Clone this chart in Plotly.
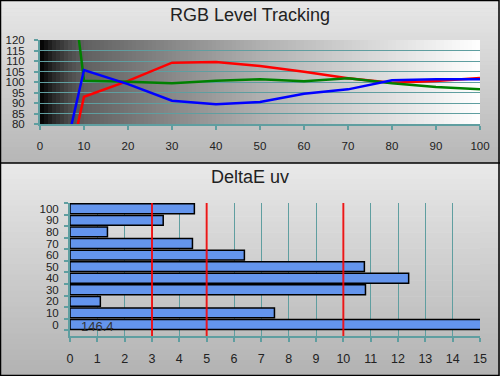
import plotly.graph_objects as go

# ---------------- data ----------------
levels = [5, 10, 20, 30, 40, 50, 60, 70, 80, 90, 100]
red = [46.6, 93.0, 100.5, 109.2, 109.5, 107.6, 104.9, 101.8, 99.7, 100.5, 101.9]
green = [185.6, 100.6, 100.1, 99.4, 100.6, 101.3, 100.3, 101.8, 99.4, 97.6, 96.5]
blue = [59.8, 105.7, 99.0, 91.1, 89.4, 90.5, 94.4, 96.5, 100.8, 101.3, 101.3]

de_levels = ["0", "10", "20", "30", "40", "50", "60", "70", "80", "90", "100"]
de_values = [146.4, 7.48, 1.11, 10.81, 12.39, 10.77, 6.38, 4.48, 1.37, 3.41, 4.55]
de_label = "146.4"
thresholds = [3, 5, 10]

x_ticks_top = list(range(0, 101, 10))
y_ticks_top = list(range(80, 121, 5))
x_ticks_bot = list(range(0, 16))

# ---------------- styling helpers ----------------
W, H = 500, 376
TEAL = "#5f9ea0"
FONT = "Liberation Sans, Arial, sans-serif"
TXT = "#222222"


def lerp_gray(stops, t):
    for (t0, g0), (t1, g1) in zip(stops, stops[1:]):
        if t0 <= t <= t1:
            f = (t - t0) / (t1 - t0) if t1 > t0 else 0
            g = round(g0 + (g1 - g0) * f)
            return f"rgb({g},{g},{g})"
    g = stops[-1][1]
    return f"rgb({g},{g},{g})"


shapes = []

# panel backgrounds (vertical gradients)
def panel(y_top_px, y_bot_px, g_top, g_bot, n=40):
    h = (y_bot_px - y_top_px) / n
    for i in range(n):
        t = (i + 0.5) / n
        g = round(g_top + (g_bot - g_top) * t)
        y0 = y_top_px + i * h
        y1 = y0 + h + 0.6
        shapes.append(dict(type="rect", xref="paper", yref="paper",
                           x0=0, x1=1, y0=1 - min(y1, H) / H, y1=1 - y0 / H,
                           fillcolor=f"rgb({g},{g},{g})", line_width=0,
                           layer="below"))

panel(0, 163, 232, 182)
panel(163, 376, 233, 178)

# plot-area gradient for top chart (black -> white horizontally)
grad_stops = [(0.0, 0), (0.03, 40), (0.07, 78), (0.10, 96), (0.5, 176), (1.0, 255)]
NG = 110
for i in range(NG):
    x0 = 100 * i / NG
    x1 = 100 * (i + 1) / NG
    shapes.append(dict(type="rect", xref="x", yref="y domain",
                       x0=x0, x1=min(x1 + 0.4, 100), y0=0, y1=1,
                       fillcolor=lerp_gray(grad_stops, (i + 0.5) / NG),
                       line_width=0, layer="below"))

# threshold lines on DeltaE chart
for t in thresholds:
    shapes.append(dict(type="line", xref="x2", yref="y2 domain",
                       x0=t, x1=t, y0=0, y1=1,
                       line=dict(color="rgba(255,0,0,0.85)", width=2),
                       layer="above"))

# frame and separator
shapes.append(dict(type="rect", xref="paper", yref="paper",
                   x0=0.001, x1=0.998, y0=0.0015, y1=0.9987,
                   line=dict(color="black", width=1.5), layer="above"))
shapes.append(dict(type="line", xref="paper", yref="paper",
                   x0=0, x1=1, y0=1 - 163 / H, y1=1 - 163 / H,
                   line=dict(color="black", width=1.5), layer="above"))

fig = go.Figure()

fig.add_trace(go.Scatter(x=levels, y=red, mode="lines",
                         line=dict(color="#ff0000", width=2.5),
                         xaxis="x", yaxis="y", showlegend=False))
fig.add_trace(go.Scatter(x=levels, y=green, mode="lines",
                         line=dict(color="#008000", width=2.5),
                         xaxis="x", yaxis="y", showlegend=False))
fig.add_trace(go.Scatter(x=levels, y=blue, mode="lines",
                         line=dict(color="#0000ff", width=2.5),
                         xaxis="x", yaxis="y", showlegend=False))

fig.add_trace(go.Bar(x=de_values, y=de_levels, orientation="h",
                     marker=dict(color="#6495ED",
                                 line=dict(color="black", width=1.5)),
                     xaxis="x2", yaxis="y2", showlegend=False))

axis_common = dict(showline=True, linecolor=TEAL, linewidth=2,
                   ticks="outside", ticklen=4, tickwidth=2, tickcolor=TEAL,
                   zeroline=False, fixedrange=True, automargin=False)

fig.update_layout(
    width=W, height=H,
    margin=dict(l=0, r=0, t=0, b=0, pad=0),
    paper_bgcolor="#d0d0d0",
    plot_bgcolor="white",
    font=dict(family=FONT, color=TXT),
    bargap=0.15,
    shapes=shapes,
    xaxis=dict(domain=[40 / W, 480 / W], range=[0, 100],
               tickmode="array", tickvals=x_ticks_top, showgrid=False,
               anchor="y",
               tickfont=dict(size=11.5, color=TXT), ticklabelstandoff=6,
               **axis_common),
    yaxis=dict(domain=[1 - 124 / H, 1 - 40 / H], range=[80, 120],
               tickmode="array", tickvals=y_ticks_top, showgrid=True,
               gridcolor=TEAL, gridwidth=1.2, anchor="x",
               tickfont=dict(size=11.5, color=TXT), ticklabelstandoff=7,
               **axis_common),
    xaxis2=dict(domain=[70 / W, 480 / W], range=[0, 15],
                tickmode="array", tickvals=x_ticks_bot, showgrid=True,
                gridcolor=TEAL, gridwidth=1.2, anchor="y2",
                tickfont=dict(size=12.5, color=TXT), ticklabelstandoff=6,
                **axis_common),
    yaxis2=dict(domain=[1 - 336 / H, 1 - 203 / H], type="category",
                categoryorder="array", categoryarray=de_levels,
                tickmode="linear", tick0=0, dtick=1,
                tickson="boundaries", showgrid=False, anchor="x2",
                tickfont=dict(size=11.5, color=TXT), ticklabelstandoff=7,
                **axis_common),
    annotations=[
        dict(text="RGB Level Tracking", xref="paper", yref="paper",
             x=0.5, y=1 - 15 / H, showarrow=False, yanchor="middle",
             font=dict(size=18, color=TXT, family=FONT)),
        dict(text="DeltaE uv", xref="paper", yref="paper",
             x=0.5, y=1 - 177 / H, showarrow=False, yanchor="middle",
             font=dict(size=18, color=TXT, family=FONT)),
        dict(text=de_label, xref="x2", yref="y2",
             x=1.0, y=de_levels[0], showarrow=False, yshift=-2,
             font=dict(size=13, color="#333333", family=FONT)),
    ],
)

fig.write_html(
    "out.html",
    config={"displayModeBar": False},
    post_script="document.body.style.margin='0';document.body.style.overflow='hidden';",
)
